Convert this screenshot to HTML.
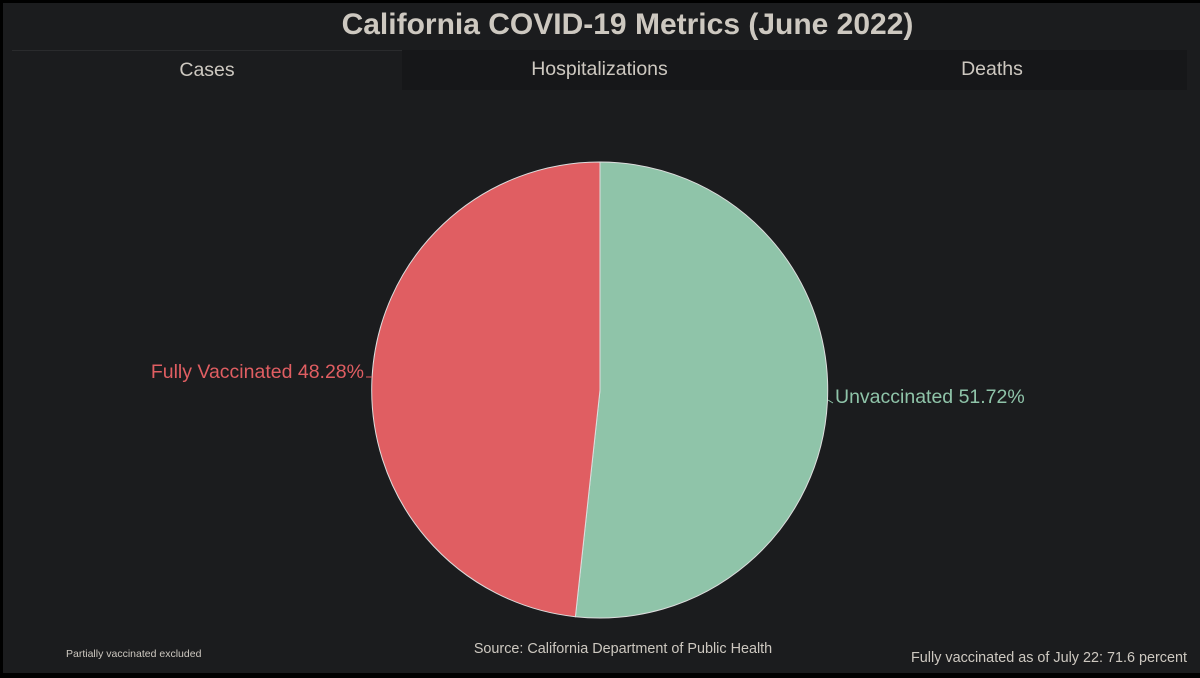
<!DOCTYPE html>
<html><head><style>
html,body{margin:0;padding:0;background:#000;}
#c{position:absolute;left:3px;top:3px;width:1197px;height:670px;background:#1b1c1e;font-family:"Liberation Sans",sans-serif;overflow:hidden;}
.t{position:absolute;left:26px;width:1197px;top:5px;text-align:center;color:#cdc8c0;font-size:30px;font-weight:bold;}
.tab{position:absolute;top:47px;height:40px;line-height:38px;text-align:center;color:#cdc8c0;font-size:19.5px;}
</style></head><body>
<div id="c">
<div class="t">California COVID-19 Metrics (June 2022)</div>
<div class="tab" style="left:9px;width:390px;background:#1b1c1e;border-top:1px solid #2a2b2d;">Cases</div>
<div class="tab" style="left:399px;width:395px;background:#161719;">Hospitalizations</div>
<div class="tab" style="left:794px;width:390px;background:#161719;">Deaths</div>
<svg width="1197" height="670" style="position:absolute;left:0;top:0" font-family="Liberation Sans, sans-serif">
<g transform="translate(-3,-3)">
<path d="M600,390 L600,162 A228,228 0 1 1 575.4,616.7 Z" fill="#8fc4a9" stroke="#ddd" stroke-width="1"/>
<path d="M600,390 L575.4,616.7 A228,228 0 0 1 600,162 Z" fill="#e05e62" stroke="#ddd" stroke-width="1"/>
<polyline points="828,400 833,403" stroke="#8fc4a9" fill="none"/>
<polyline points="372,377 366,377" stroke="#e05e62" fill="none"/>
<text x="835" y="403" fill="#8fc4a9" font-size="19.5">Unvaccinated 51.72%</text>
<text x="364" y="378" fill="#e05e62" font-size="19.5" text-anchor="end">Fully Vaccinated 48.28%</text>
<text x="66" y="657" fill="#cdc8c0" font-size="10.5">Partially vaccinated excluded</text>
<text x="623" y="653" fill="#cdc8c0" font-size="14.4" text-anchor="middle">Source: California Department of Public Health</text>
<text x="1187" y="662" fill="#cdc8c0" font-size="14.4" text-anchor="end">Fully vaccinated as of July 22: 71.6 percent</text>
</g>
</svg>
</div>
</body></html>
